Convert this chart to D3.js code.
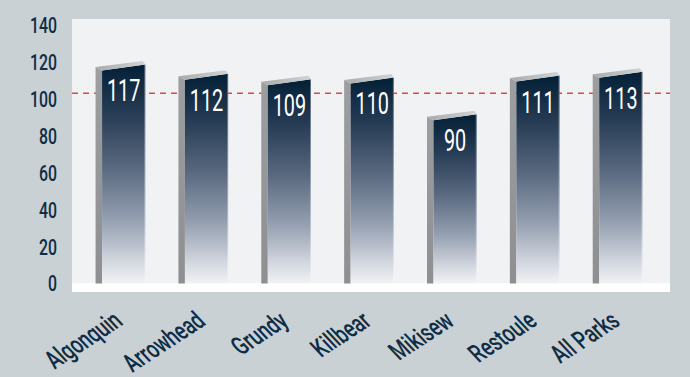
<!DOCTYPE html>
<html>
<head>
<meta charset="utf-8">
<script src="https://cdn.jsdelivr.net/npm/d3@7"></script>
<style>
  html, body { margin: 0; padding: 0; background: #c9d1d5; }
  svg { display: block; }
  text { font-family: Roboto, "Noto Sans", sans-serif; }
</style>
</head>
<body>
<svg id="chart" width="690" height="377"></svg>
<script>
// Park scores, with the overall reference level shown as a dashed line
const parks = ["Algonquin", "Arrowhead", "Grundy", "Killbear", "Mikisew", "Restoule", "All Parks"];
const scores = [117, 112, 109, 110, 90, 111, 113];
const referenceLevel = 103;
const yTicks = [0, 20, 40, 60, 80, 100, 120, 140];

const panel = { left: 72, right: 670, top: 19, floor: 283, bottom: 292 };

const svg = d3.select("#chart");

const x = d3.scaleBand()
  .domain(parks)
  .range([79, 659])
  .paddingInner(0.4)
  .paddingOuter(0.2);

const y = d3.scaleLinear()
  .domain([0, 140])
  .range([283.5, 25]);

const defs = svg.append("defs");

const frontGrad = defs.append("linearGradient")
  .attr("id", "front-grad")
  .attr("x1", 0).attr("y1", 0).attr("x2", 0).attr("y2", 1);
[
  [0, "#032036"],
  [0.22, "#263b54"],
  [0.48, "#5b6b81"],
  [0.72, "#97a2b3"],
  [0.9, "#d3d7df"],
  [1, "#f1f2f5"]
].forEach(([o, c]) => frontGrad.append("stop").attr("offset", o).attr("stop-color", c));

const sideGrad = defs.append("linearGradient")
  .attr("id", "side-grad")
  .attr("x1", 0).attr("y1", 0).attr("x2", 0).attr("y2", 1);
sideGrad.append("stop").attr("offset", 0).attr("stop-color", "#9d9ea0");
sideGrad.append("stop").attr("offset", 1).attr("stop-color", "#8e8f91");

const topGrad = defs.append("linearGradient")
  .attr("id", "top-grad")
  .attr("x1", 0).attr("y1", 0).attr("x2", 1).attr("y2", 0);
topGrad.append("stop").attr("offset", 0).attr("stop-color", "#a9aaac");
topGrad.append("stop").attr("offset", 1).attr("stop-color", "#d2d3d5");

// Plot panel and floor strip
svg.append("rect")
  .attr("x", panel.left).attr("y", panel.top)
  .attr("width", panel.right - panel.left)
  .attr("height", panel.floor - panel.top)
  .attr("fill", "#f1f2f4");
svg.append("rect")
  .attr("x", panel.left).attr("y", panel.floor)
  .attr("width", panel.right - panel.left)
  .attr("height", panel.bottom - panel.floor)
  .attr("fill", "#ffffff");

// Reference line
svg.append("line")
  .attr("x1", panel.left).attr("x2", panel.right)
  .attr("y1", y(referenceLevel)).attr("y2", y(referenceLevel))
  .attr("stroke", "#e0464e")
  .attr("stroke-width", 1.5)
  .attr("stroke-dasharray", "6,5");

// Y axis labels
const yAxis = d3.axisLeft(y).tickValues(yTicks).tickSize(0).tickPadding(0);
const yG = svg.append("g").attr("transform", "translate(57,0)").call(yAxis);
yG.select(".domain").remove();
yG.selectAll("text")
  .attr("x", 0).attr("dy", null)
  .attr("dominant-baseline", "central")
  .attr("text-anchor", "end")
  .attr("fill", "#0f2d45")
  .style("font-size", "22px")
  .style("font-weight", 500)
  .attr("transform", function(d) { return `translate(0,${y(d)}) scale(0.72,1) translate(0,${-y(d)})`; });

// Bars with a bevelled side and top
const side = 6.5;
const y0 = y(0);
const bars = svg.append("g").selectAll("g.bar")
  .data(parks.map((p, i) => ({ park: p, value: scores[i] })))
  .join("g").attr("class", "bar");

bars.append("path")
  .attr("fill", "url(#side-grad)")
  .attr("d", d => {
    const x0 = x(d.park), yv = y(d.value);
    return `M${x0},${yv - 0.5}L${x0 + side},${yv + 3}L${x0 + side},${y0}L${x0},${y0}Z`;
  });

bars.append("path")
  .attr("fill", "url(#front-grad)")
  .attr("d", d => {
    const x0 = x(d.park), x1 = x0 + x.bandwidth(), yv = y(d.value);
    return `M${x0 + side},${yv + 3}L${x1},${yv - 3}L${x1},${y0}L${x0 + side},${y0}Z`;
  });

bars.append("line")
  .attr("x1", d => x(d.park) + x.bandwidth() - 0.5)
  .attr("x2", d => x(d.park) + x.bandwidth() - 0.5)
  .attr("y1", d => y(d.value) - 3)
  .attr("y2", y0)
  .attr("stroke", "rgba(255,255,255,0.35)")
  .attr("stroke-width", 1);

bars.append("path")
  .attr("fill", "url(#top-grad)")
  .attr("d", d => {
    const x0 = x(d.park), x1 = x0 + x.bandwidth(), yv = y(d.value);
    return `M${x0},${yv - 0.5}L${x1 - 2.5},${yv - 6.5}L${x1},${yv - 3}L${x0 + side},${yv + 3}Z`;
  });

// Value labels
bars.append("text")
  .attr("text-anchor", "middle")
  .attr("fill", "#ffffff")
  .style("font-size", "31px")
  .attr("transform", d => {
    const cx = x(d.park) + side + (x.bandwidth() - side) / 2;
    return `translate(${cx},${y(d.value) + 34}) scale(0.64,1)`;
  })
  .text(d => d.value);

// Category labels: slanted, stretched sideways after rotation
const xAxis = d3.axisBottom(x).tickSize(0).tickPadding(0);
const xG = svg.append("g").call(xAxis);
xG.select(".domain").remove();
xG.selectAll(".tick").attr("transform", null);
xG.selectAll("text")
  .attr("x", 0).attr("y", 0).attr("dy", null)
  .attr("text-anchor", "end")
  .attr("fill", "#0f2d45")
  .style("font-size", "25px")
  .style("font-weight", 500)
  .attr("transform", d => `translate(${x(d) + x.bandwidth() / 2 + 4},324) scale(1.2,1) rotate(-38) scale(0.65,1)`);
</script>
</body>
</html>
